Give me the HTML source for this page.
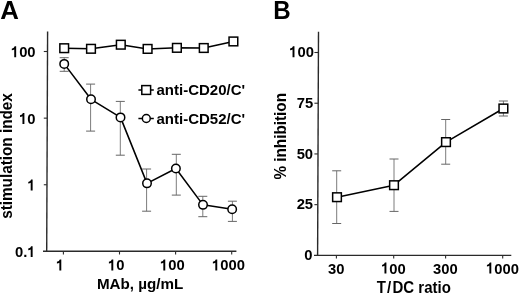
<!DOCTYPE html>
<html><head><meta charset="utf-8"><style>
html,body{margin:0;padding:0;background:#fff;width:520px;height:294px;overflow:hidden}
svg{display:block;filter:blur(0.35px)}
text{font-family:"Liberation Sans", sans-serif;font-weight:bold;fill:#000;font-kerning:none}
</style></head><body>
<svg width="520" height="294" viewBox="0 0 520 294">
<text transform="translate(0.25,18.7) scale(1.02,1)" font-size="25.3" text-anchor="start">A</text>
<line x1="47.6" y1="31.5" x2="46.7" y2="251.95" stroke="#2a2a2a" stroke-width="1.4" stroke-linecap="butt"/>
<line x1="43" y1="251.25" x2="236.4" y2="251.25" stroke="#2a2a2a" stroke-width="1.4" stroke-linecap="butt"/>
<line x1="43.8" y1="51.5" x2="47.32" y2="51.5" stroke="#2a2a2a" stroke-width="1.1" stroke-linecap="butt"/>
<text transform="translate(10.91,57.3) scale(1,1.04)" font-size="14.8">&#8199;00</text>
<path transform="translate(10.91,57.3) scale(14.8,-15.39)" d="M0.355,0 L0.355,0.71 L0.255,0.71 Q0.23,0.6 0.06,0.56 L0.06,0.45 Q0.16,0.46 0.225,0.5 L0.225,0 Z"/>
<line x1="43.8" y1="118.15" x2="47.05" y2="118.15" stroke="#2a2a2a" stroke-width="1.1" stroke-linecap="butt"/>
<text transform="translate(19.14,123.95) scale(1,1.04)" font-size="14.8">&#8199;0</text>
<path transform="translate(19.14,123.95) scale(14.8,-15.39)" d="M0.355,0 L0.355,0.71 L0.255,0.71 Q0.23,0.6 0.06,0.56 L0.06,0.45 Q0.16,0.46 0.225,0.5 L0.225,0 Z"/>
<line x1="43.8" y1="184.75" x2="46.77" y2="184.75" stroke="#2a2a2a" stroke-width="1.1" stroke-linecap="butt"/>
<path transform="translate(27.37,190.55) scale(14.8,-15.39)" d="M0.355,0 L0.355,0.71 L0.255,0.71 Q0.23,0.6 0.06,0.56 L0.06,0.45 Q0.16,0.46 0.225,0.5 L0.225,0 Z"/>
<text transform="translate(15.03,257.1) scale(1,1.04)" font-size="14.8">0.&#8199;</text>
<path transform="translate(27.37,257.1) scale(14.8,-15.39)" d="M0.355,0 L0.355,0.71 L0.255,0.71 Q0.23,0.6 0.06,0.56 L0.06,0.45 Q0.16,0.46 0.225,0.5 L0.225,0 Z"/>
<line x1="63.4" y1="251.25" x2="63.4" y2="254.5" stroke="#2a2a2a" stroke-width="1.1" stroke-linecap="butt"/>
<path transform="translate(56.03,270.4) scale(14.8,-15.39)" d="M0.355,0 L0.355,0.71 L0.255,0.71 Q0.23,0.6 0.06,0.56 L0.06,0.45 Q0.16,0.46 0.225,0.5 L0.225,0 Z"/>
<line x1="119.5" y1="251.25" x2="119.5" y2="254.5" stroke="#2a2a2a" stroke-width="1.1" stroke-linecap="butt"/>
<text transform="translate(108.02,270.4) scale(1,1.04)" font-size="14.8">&#8199;0</text>
<path transform="translate(108.02,270.4) scale(14.8,-15.39)" d="M0.355,0 L0.355,0.71 L0.255,0.71 Q0.23,0.6 0.06,0.56 L0.06,0.45 Q0.16,0.46 0.225,0.5 L0.225,0 Z"/>
<line x1="175.6" y1="251.25" x2="175.6" y2="254.5" stroke="#2a2a2a" stroke-width="1.1" stroke-linecap="butt"/>
<text transform="translate(160,270.4) scale(1,1.04)" font-size="14.8">&#8199;00</text>
<path transform="translate(160,270.4) scale(14.8,-15.39)" d="M0.355,0 L0.355,0.71 L0.255,0.71 Q0.23,0.6 0.06,0.56 L0.06,0.45 Q0.16,0.46 0.225,0.5 L0.225,0 Z"/>
<line x1="231.7" y1="251.25" x2="231.7" y2="254.5" stroke="#2a2a2a" stroke-width="1.1" stroke-linecap="butt"/>
<text transform="translate(211.99,270.4) scale(1,1.04)" font-size="14.8">&#8199;000</text>
<path transform="translate(211.99,270.4) scale(14.8,-15.39)" d="M0.355,0 L0.355,0.71 L0.255,0.71 Q0.23,0.6 0.06,0.56 L0.06,0.45 Q0.16,0.46 0.225,0.5 L0.225,0 Z"/>
<text transform="translate(96.9,289.35) scale(1,1.02)" font-size="15.2" text-anchor="start">MAb, &#181;g/mL</text>
<text transform="translate(12.2,156) rotate(-90) scale(1,1.02)" font-size="15.3" text-anchor="middle">stimulation index</text>
<line x1="138.4" y1="90" x2="153.8" y2="90" stroke="#000" stroke-width="1.5" stroke-linecap="butt"/>
<rect x="141.8" y="85.6" width="8.8" height="8.8" fill="#fff" stroke="#000" stroke-width="1.5"/>
<text transform="translate(156.5,95.4) scale(1,1.02)" font-size="15.0" text-anchor="start">anti-CD20/C'</text>
<line x1="138.4" y1="118.5" x2="153.8" y2="118.5" stroke="#000" stroke-width="1.5" stroke-linecap="butt"/>
<circle cx="146.3" cy="118.45" r="3.95" fill="#fff" stroke="#000" stroke-width="1.5"/>
<text transform="translate(156.5,123.6) scale(1,1.02)" font-size="15.0" text-anchor="start">anti-CD52/C'</text>
<line x1="64.2" y1="57.7" x2="64.2" y2="71.3" stroke="#7c7c7c" stroke-width="1.0" stroke-linecap="butt"/>
<line x1="59.7" y1="57.7" x2="68.7" y2="57.7" stroke="#666" stroke-width="1.0" stroke-linecap="butt"/>
<line x1="59.7" y1="71.3" x2="68.7" y2="71.3" stroke="#666" stroke-width="1.0" stroke-linecap="butt"/>
<line x1="90.6" y1="84.1" x2="90.6" y2="131.1" stroke="#7c7c7c" stroke-width="1.0" stroke-linecap="butt"/>
<line x1="86.1" y1="84.1" x2="95.1" y2="84.1" stroke="#666" stroke-width="1.0" stroke-linecap="butt"/>
<line x1="86.1" y1="131.1" x2="95.1" y2="131.1" stroke="#666" stroke-width="1.0" stroke-linecap="butt"/>
<line x1="120.3" y1="101.4" x2="120.3" y2="155.2" stroke="#7c7c7c" stroke-width="1.0" stroke-linecap="butt"/>
<line x1="115.8" y1="101.4" x2="124.8" y2="101.4" stroke="#666" stroke-width="1.0" stroke-linecap="butt"/>
<line x1="115.8" y1="155.2" x2="124.8" y2="155.2" stroke="#666" stroke-width="1.0" stroke-linecap="butt"/>
<line x1="146.6" y1="169" x2="146.6" y2="211.2" stroke="#7c7c7c" stroke-width="1.0" stroke-linecap="butt"/>
<line x1="142.1" y1="169" x2="151.1" y2="169" stroke="#666" stroke-width="1.0" stroke-linecap="butt"/>
<line x1="142.1" y1="211.2" x2="151.1" y2="211.2" stroke="#666" stroke-width="1.0" stroke-linecap="butt"/>
<line x1="176.3" y1="154.3" x2="176.3" y2="195.1" stroke="#7c7c7c" stroke-width="1.0" stroke-linecap="butt"/>
<line x1="171.8" y1="154.3" x2="180.8" y2="154.3" stroke="#666" stroke-width="1.0" stroke-linecap="butt"/>
<line x1="171.8" y1="195.1" x2="180.8" y2="195.1" stroke="#666" stroke-width="1.0" stroke-linecap="butt"/>
<line x1="202.8" y1="196.3" x2="202.8" y2="216.7" stroke="#7c7c7c" stroke-width="1.0" stroke-linecap="butt"/>
<line x1="198.3" y1="196.3" x2="207.3" y2="196.3" stroke="#666" stroke-width="1.0" stroke-linecap="butt"/>
<line x1="198.3" y1="216.7" x2="207.3" y2="216.7" stroke="#666" stroke-width="1.0" stroke-linecap="butt"/>
<line x1="232.4" y1="201.2" x2="232.4" y2="221.4" stroke="#7c7c7c" stroke-width="1.0" stroke-linecap="butt"/>
<line x1="227.9" y1="201.2" x2="236.9" y2="201.2" stroke="#666" stroke-width="1.0" stroke-linecap="butt"/>
<line x1="227.9" y1="221.4" x2="236.9" y2="221.4" stroke="#666" stroke-width="1.0" stroke-linecap="butt"/>
<polyline points="64.2,63.9 91,99.3 120.5,117.4 147,183.35 175.9,168.5 203,204.85 232.15,209.25" fill="none" stroke="#000" stroke-width="1.55" stroke-linejoin="round"/>
<circle cx="64.2" cy="63.9" r="4.25" fill="#fff" stroke="#000" stroke-width="1.5"/>
<circle cx="91" cy="99.3" r="4.25" fill="#fff" stroke="#000" stroke-width="1.5"/>
<circle cx="120.5" cy="117.4" r="4.25" fill="#fff" stroke="#000" stroke-width="1.5"/>
<circle cx="147" cy="183.35" r="4.25" fill="#fff" stroke="#000" stroke-width="1.5"/>
<circle cx="175.9" cy="168.5" r="4.25" fill="#fff" stroke="#000" stroke-width="1.5"/>
<circle cx="203" cy="204.85" r="4.25" fill="#fff" stroke="#000" stroke-width="1.5"/>
<circle cx="232.15" cy="209.25" r="4.25" fill="#fff" stroke="#000" stroke-width="1.5"/>
<polyline points="64.2,48.2 91,48.8 120.8,44.7 147.6,48.9 176.9,47.85 203.75,48 233.4,41.45" fill="none" stroke="#000" stroke-width="1.55" stroke-linejoin="round"/>
<rect x="59.85" y="43.85" width="8.7" height="8.7" fill="#fff" stroke="#000" stroke-width="1.5"/>
<rect x="86.65" y="44.45" width="8.7" height="8.7" fill="#fff" stroke="#000" stroke-width="1.5"/>
<rect x="116.45" y="40.35" width="8.7" height="8.7" fill="#fff" stroke="#000" stroke-width="1.5"/>
<rect x="143.25" y="44.55" width="8.7" height="8.7" fill="#fff" stroke="#000" stroke-width="1.5"/>
<rect x="172.55" y="43.5" width="8.7" height="8.7" fill="#fff" stroke="#000" stroke-width="1.5"/>
<rect x="199.4" y="43.65" width="8.7" height="8.7" fill="#fff" stroke="#000" stroke-width="1.5"/>
<rect x="229.05" y="37.1" width="8.7" height="8.7" fill="#fff" stroke="#000" stroke-width="1.5"/>
<text transform="translate(273.3,18.9) scale(0.95,1)" font-size="25.4" text-anchor="start">B</text>
<line x1="318.5" y1="31.8" x2="317.6" y2="256.1" stroke="#2a2a2a" stroke-width="1.4" stroke-linecap="butt"/>
<line x1="314" y1="255.4" x2="511.3" y2="255.4" stroke="#2a2a2a" stroke-width="1.4" stroke-linecap="butt"/>
<line x1="314.4" y1="52.5" x2="318.22" y2="52.5" stroke="#2a2a2a" stroke-width="1.1" stroke-linecap="butt"/>
<text transform="translate(289.21,57.2) scale(1,1.04)" font-size="14.8">&#8199;00</text>
<path transform="translate(289.21,57.2) scale(14.8,-15.39)" d="M0.355,0 L0.355,0.71 L0.255,0.71 Q0.23,0.6 0.06,0.56 L0.06,0.45 Q0.16,0.46 0.225,0.5 L0.225,0 Z"/>
<line x1="314.4" y1="103.22" x2="318.01" y2="103.22" stroke="#2a2a2a" stroke-width="1.1" stroke-linecap="butt"/>
<text transform="translate(296.74,107.92) scale(1,1.04)" font-size="14.8">75</text>
<line x1="314.4" y1="153.94" x2="317.81" y2="153.94" stroke="#2a2a2a" stroke-width="1.1" stroke-linecap="butt"/>
<text transform="translate(296.64,158.64) scale(1,1.04)" font-size="14.8">50</text>
<line x1="314.4" y1="204.66" x2="317.61" y2="204.66" stroke="#2a2a2a" stroke-width="1.1" stroke-linecap="butt"/>
<text transform="translate(296.64,209.36) scale(1,1.04)" font-size="14.8">25</text>
<text transform="translate(304.27,260.08) scale(1,1.04)" font-size="14.8">0</text>
<line x1="336.4" y1="255.4" x2="336.4" y2="258.6" stroke="#2a2a2a" stroke-width="1.1" stroke-linecap="butt"/>
<text transform="translate(327.97,273.5) scale(1,1.04)" font-size="14.8">30</text>
<line x1="393.7" y1="255.4" x2="393.7" y2="258.6" stroke="#2a2a2a" stroke-width="1.1" stroke-linecap="butt"/>
<text transform="translate(381.15,273.5) scale(1,1.04)" font-size="14.8">&#8199;00</text>
<path transform="translate(381.15,273.5) scale(14.8,-15.39)" d="M0.355,0 L0.355,0.71 L0.255,0.71 Q0.23,0.6 0.06,0.56 L0.06,0.45 Q0.16,0.46 0.225,0.5 L0.225,0 Z"/>
<line x1="445.6" y1="255.4" x2="445.6" y2="258.6" stroke="#2a2a2a" stroke-width="1.1" stroke-linecap="butt"/>
<text transform="translate(433.05,273.5) scale(1,1.04)" font-size="14.8">300</text>
<line x1="502.7" y1="255.4" x2="502.7" y2="258.6" stroke="#2a2a2a" stroke-width="1.1" stroke-linecap="butt"/>
<text transform="translate(486.04,273.5) scale(1,1.04)" font-size="14.8">&#8199;000</text>
<path transform="translate(486.04,273.5) scale(14.8,-15.39)" d="M0.355,0 L0.355,0.71 L0.255,0.71 Q0.23,0.6 0.06,0.56 L0.06,0.45 Q0.16,0.46 0.225,0.5 L0.225,0 Z"/>
<text transform="translate(413.8,292.8) scale(1,1.04)" font-size="15.0" text-anchor="middle">T<tspan dx="1.1">/</tspan><tspan dx="1.3">DC ratio</tspan></text>
<text transform="translate(285.9,136.25) rotate(-90) scale(1,1.02)" font-size="15.3" text-anchor="middle">% inhibition</text>
<line x1="336.7" y1="170.8" x2="336.7" y2="223.5" stroke="#7c7c7c" stroke-width="1.0" stroke-linecap="butt"/>
<line x1="332.2" y1="170.8" x2="341.2" y2="170.8" stroke="#666" stroke-width="1.0" stroke-linecap="butt"/>
<line x1="332.2" y1="223.5" x2="341.2" y2="223.5" stroke="#666" stroke-width="1.0" stroke-linecap="butt"/>
<line x1="394" y1="159" x2="394" y2="211.4" stroke="#7c7c7c" stroke-width="1.0" stroke-linecap="butt"/>
<line x1="389.5" y1="159" x2="398.5" y2="159" stroke="#666" stroke-width="1.0" stroke-linecap="butt"/>
<line x1="389.5" y1="211.4" x2="398.5" y2="211.4" stroke="#666" stroke-width="1.0" stroke-linecap="butt"/>
<line x1="445.7" y1="119.5" x2="445.7" y2="164.2" stroke="#7c7c7c" stroke-width="1.0" stroke-linecap="butt"/>
<line x1="441.2" y1="119.5" x2="450.2" y2="119.5" stroke="#666" stroke-width="1.0" stroke-linecap="butt"/>
<line x1="441.2" y1="164.2" x2="450.2" y2="164.2" stroke="#666" stroke-width="1.0" stroke-linecap="butt"/>
<line x1="503.4" y1="101" x2="503.4" y2="116" stroke="#7c7c7c" stroke-width="1.0" stroke-linecap="butt"/>
<line x1="498.9" y1="101" x2="507.9" y2="101" stroke="#666" stroke-width="1.0" stroke-linecap="butt"/>
<line x1="498.9" y1="116" x2="507.9" y2="116" stroke="#666" stroke-width="1.0" stroke-linecap="butt"/>
<polyline points="337,197.2 394,185.2 446,142.1 503.4,108.5" fill="none" stroke="#000" stroke-width="1.55" stroke-linejoin="round"/>
<rect x="332.65" y="192.85" width="8.7" height="8.7" fill="#fff" stroke="#000" stroke-width="1.5"/>
<rect x="389.65" y="180.85" width="8.7" height="8.7" fill="#fff" stroke="#000" stroke-width="1.5"/>
<rect x="441.65" y="137.75" width="8.7" height="8.7" fill="#fff" stroke="#000" stroke-width="1.5"/>
<rect x="499.05" y="104.15" width="8.7" height="8.7" fill="#fff" stroke="#000" stroke-width="1.5"/>
</svg>
</body></html>
